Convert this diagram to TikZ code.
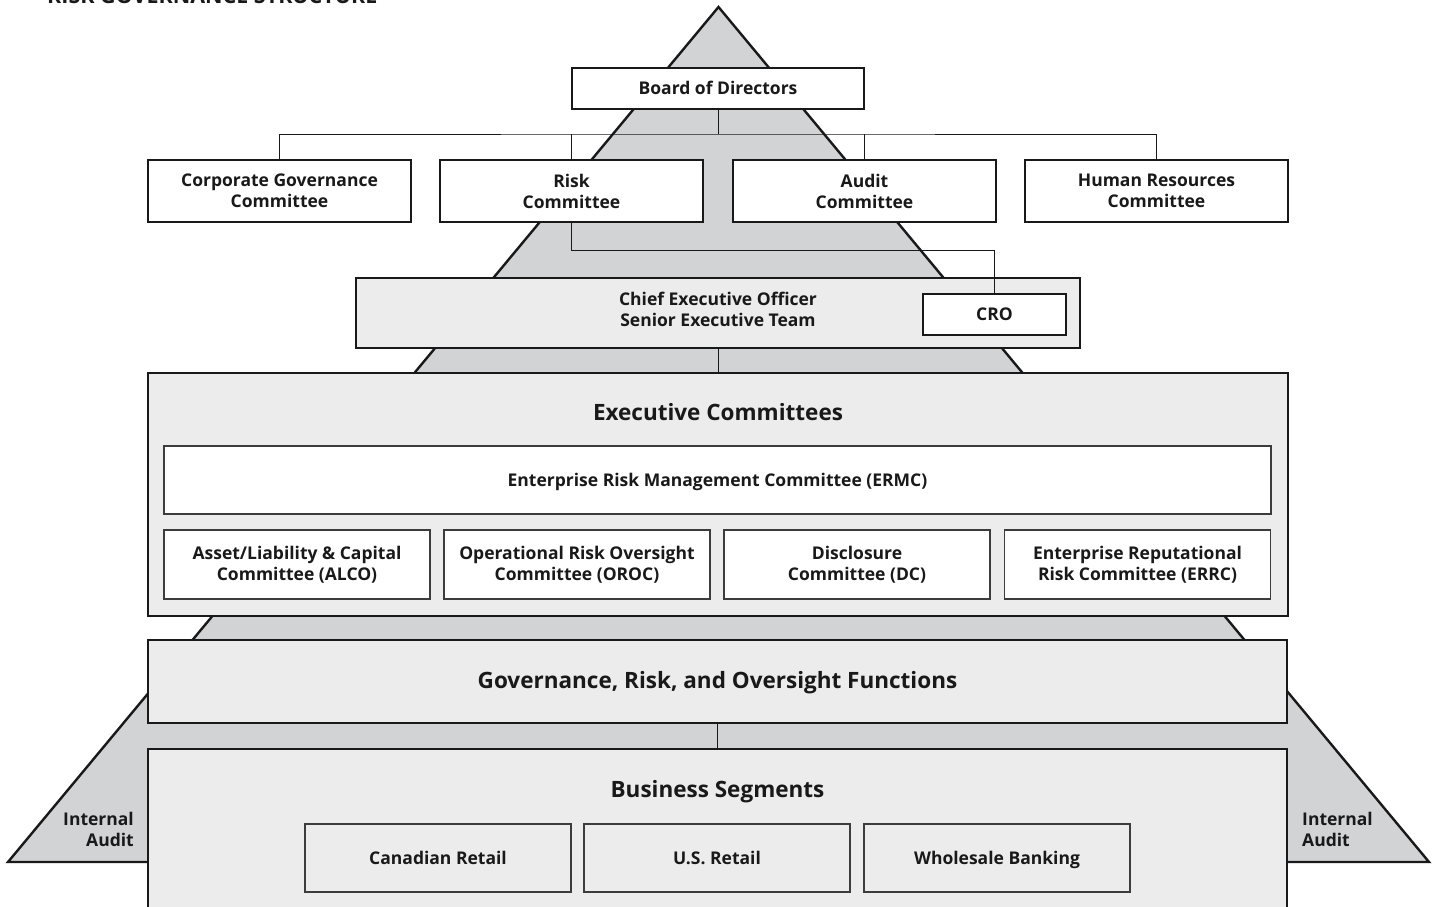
\documentclass[tikz,border=0pt]{standalone}
\usepackage{fontspec}
\setmainfont{Open Sans}
\usetikzlibrary{calc}
\definecolor{trigray}{RGB}{210,211,213}
\definecolor{pale}{RGB}{236,236,236}
\definecolor{ink}{RGB}{25,25,25}
\tikzset{
  thickbox/.style={draw=ink, line width=2.4pt, rectangle, inner sep=0pt, outer sep=0pt, align=center, text=ink, font=\fontsize{17.5}{21}\selectfont\bfseries},
  whitebox/.style={thickbox, fill=white},
  palebox/.style={thickbox, fill=pale},
  thinbox/.style={draw=ink!85, line width=1.2pt, rectangle, inner sep=0pt, outer sep=0pt, align=center, text=ink, font=\fontsize{17.5}{21}\selectfont\bfseries},
  oneline/.style={text height=12.5pt, text depth=0pt},
  conn/.style={draw=ink, line width=1pt},
  bigtitle/.style={text=ink, font=\fontsize{22.5}{26}\selectfont\bfseries, inner sep=0pt, anchor=base},
  sidetext/.style={text=ink, font=\fontsize{17.5}{21}\selectfont\bfseries, inner sep=0pt},
}
\begin{document}
\begin{tikzpicture}[x=1pt,y=-1pt]
\useasboundingbox (0,0) rectangle (1437,907);
% partially visible heading (cut by the top edge, as in the reference)
\node[anchor=base west, text=ink, font=\fontsize{21.5}{24}\selectfont\bfseries, inner sep=0pt] (heading) at (47,3.5) {RISK GOVERNANCE STRUCTURE};
% pyramid
\draw[draw=ink, fill=trigray, line width=2.4pt, line join=miter] (718.5,7) -- (1429,862) -- (8,862) -- cycle;
% board and committees
\node[whitebox, oneline, minimum width=292, minimum height=41] (board) at (718,88.5) {Board of Directors};
\node[whitebox, minimum width=263, minimum height=62] (cg) at (279.5,191) {Corporate Governance\\Committee};
\node[whitebox, minimum width=263, minimum height=62] (risk) at (571.5,191) {Risk\\Committee};
\node[whitebox, minimum width=263, minimum height=62] (audit) at (864.5,191) {Audit\\Committee};
\node[whitebox, minimum width=263, minimum height=62] (hr) at (1156.5,191) {Human Resources\\Committee};
\coordinate (bus) at (718,134);
\draw[conn] (board.south) -- (bus);
\draw[conn] (cg.north) |- (bus) -| (hr.north);
\draw[conn] (risk.north) -- (risk.north |- bus);
\draw[conn] (audit.north) -- (audit.north |- bus);
% CEO and CRO
\node[palebox, minimum width=724, minimum height=70] (ceo) at (718,313) {};
\node[text=ink, font=\fontsize{17.5}{21}\selectfont\bfseries, align=center, inner sep=0pt] (ceotext) at (718,309.5) {Chief Executive Officer\\Senior Executive Team};
\node[whitebox, oneline, minimum width=143, minimum height=41] (cro) at (994.5,314.5) {CRO};
\draw[conn] (risk.south) -- ($(risk.south)+(0,28)$) -| (cro.north);
% executive committees
\node[palebox, minimum width=1140, minimum height=243] (exec) at (718,494.5) {};
\node[bigtitle] (exectitle) at (718,420) {Executive Committees};
\draw[conn] (ceo.south) -- (exec.north);
\node[thinbox, oneline, fill=white, minimum width=1107, minimum height=68] (ermc) at (717.5,480) {Enterprise Risk Management Committee (ERMC)};
\node[thinbox, fill=white, minimum width=266, minimum height=69] (alco) at (297,564.5) {Asset/Liability \& Capital\\Committee (ALCO)};
\node[thinbox, fill=white, minimum width=266, minimum height=69] (oroc) at (577,564.5) {Operational Risk Oversight\\Committee (OROC)};
\node[thinbox, fill=white, minimum width=266, minimum height=69] (dc) at (857,564.5) {Disclosure\\Committee (DC)};
\node[thinbox, fill=white, minimum width=266, minimum height=69] (errc) at (1137.5,564.5) {Enterprise Reputational\\Risk Committee (ERRC)};
% governance
\node[palebox, minimum width=1139, minimum height=83] (gov) at (717.5,681.5) {};
\node[bigtitle] (govtitle) at (717.5,688) {Governance, Risk, and Oversight Functions};
% business segments
\node[palebox, minimum width=1139, minimum height=180] (biz) at (717.5,839) {};
\node[bigtitle] (biztitle) at (717.5,797) {Business Segments};
\draw[conn] (gov.south) -- (biz.north);
\node[thinbox, oneline, fill=pale, minimum width=266, minimum height=68] (can) at (438,858) {Canadian Retail};
\node[thinbox, oneline, fill=pale, minimum width=266, minimum height=68] (usr) at (717,858) {U.S. Retail};
\node[thinbox, oneline, fill=pale, minimum width=266, minimum height=68] (wb) at (997,858) {Wholesale Banking};
% internal audit
\node[sidetext, anchor=east, align=right] (ial) at (134,829) {Internal\\Audit};
\node[sidetext, anchor=west, align=left] (iar) at (1302,829) {Internal\\Audit};
\end{tikzpicture}
\end{document}
